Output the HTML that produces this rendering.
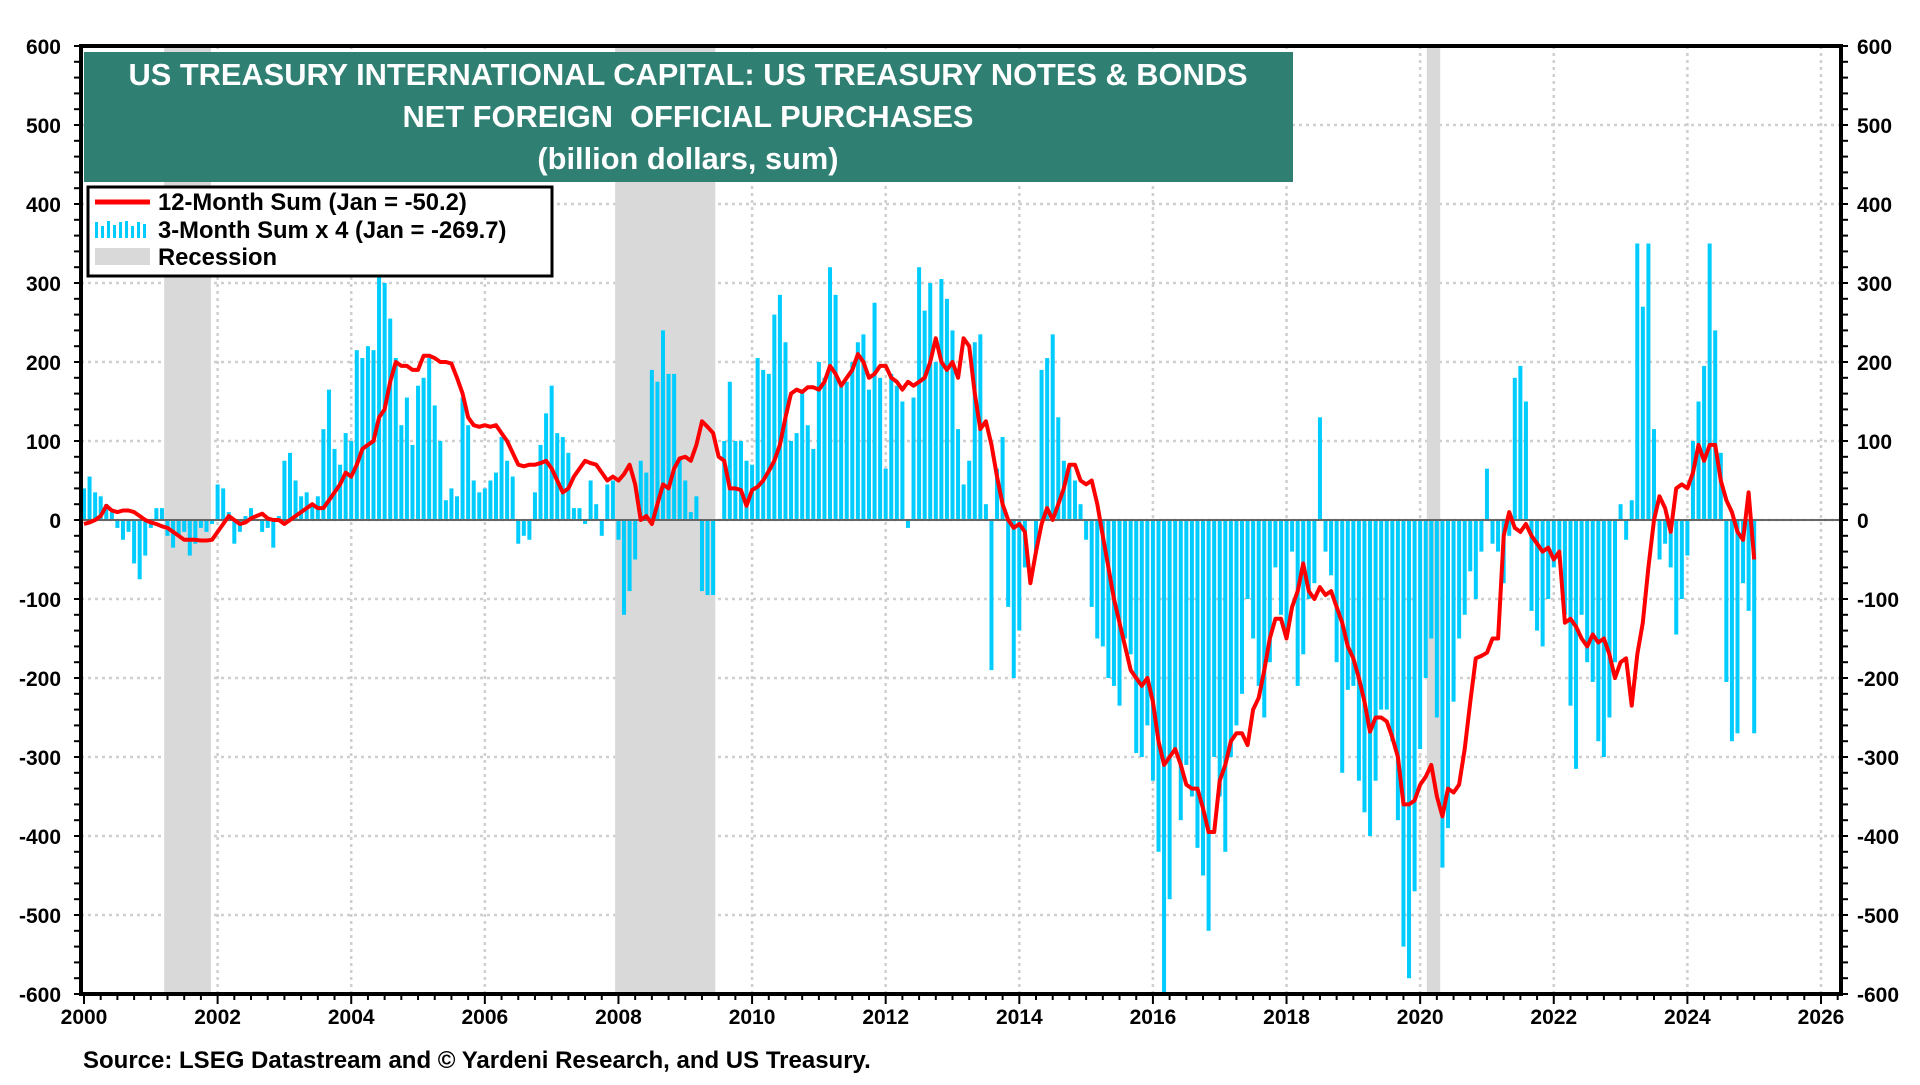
<!DOCTYPE html>
<html><head><meta charset="utf-8">
<style>
html,body{margin:0;padding:0;background:#fff;}
body{width:1920px;height:1080px;overflow:hidden;font-family:"Liberation Sans",Arial,sans-serif;}
svg text{font-family:"Liberation Sans",Arial,sans-serif;font-weight:bold;}
</style></head>
<body>
<svg id="chart" width="1920" height="1080" xmlns="http://www.w3.org/2000/svg">
<g id="grid"></g>
<g id="rec"></g>
<g id="bars"></g>
<line id="zero"></line>
<g id="line"></g>
<g id="axes"></g>
<g>
<rect x="84" y="52" width="1209" height="130" fill="#2f7f73"/>
<text x="688" y="85" fill="#fff" font-size="30.8" text-anchor="middle">US TREASURY INTERNATIONAL CAPITAL: US TREASURY NOTES &amp; BONDS</text>
<text x="688" y="127" fill="#fff" font-size="30.8" text-anchor="middle" xml:space="preserve">NET FOREIGN  OFFICIAL PURCHASES</text>
<text x="688" y="169" fill="#fff" font-size="30.8" text-anchor="middle">(billion dollars, sum)</text>
</g>
<g>
<rect x="88" y="187" width="464" height="89" fill="#fff" stroke="#000" stroke-width="3"/>
<line x1="95" y1="202" x2="150" y2="202" stroke="#f00" stroke-width="5"/>
<text x="158" y="210" font-size="23.8">12-Month Sum (Jan = -50.2)</text>
<g fill="#00ccff">
<rect x="95" y="222" width="3" height="16"/><rect x="101" y="226" width="3" height="12"/><rect x="107" y="221" width="3" height="17"/><rect x="113" y="225" width="3" height="13"/><rect x="119" y="222" width="3" height="16"/><rect x="125" y="221" width="3" height="17"/><rect x="131" y="226" width="3" height="12"/><rect x="137" y="222" width="3" height="16"/><rect x="143" y="224" width="3" height="14"/>
</g>
<text x="158" y="238" font-size="23.8">3-Month Sum x 4 (Jan = -269.7)</text>
<rect x="95" y="248" width="55" height="17" fill="#d9d9d9"/>
<text x="158" y="265" font-size="23.8">Recession</text>
</g>
<text x="83" y="1068" font-size="24">Source: LSEG Datastream and © Yardeni Research, and US Treasury.</text>
</svg>
<script>
const years = [2000,2002,2004,2006,2008,2010,2012,2014,2016,2018,2020,2022,2024,2026];
const yTicks = [600,500,400,300,200,100,0,-100,-200,-300,-400,-500,-600];
const recessions = [[2001.2,2001.9],[2007.95,2009.45],[2020.1,2020.3]];
const sum12 = [
-5,-3,0,5,18,12,10,12,12,10,5,0,
-3,-5,-8,-10,-15,-20,-25,-25,-25,-26,-26,-25,
-15,-5,5,0,-5,-3,2,5,8,2,0,0,
-5,0,5,10,15,20,15,15,25,35,45,60,
55,70,90,95,100,130,140,175,200,195,195,190,
190,208,208,205,200,200,198,180,160,130,120,118,
120,118,120,110,100,85,70,68,70,70,72,75,
65,50,35,40,55,65,75,72,70,60,50,55,
50,58,70,45,0,5,-5,20,45,40,65,78,
80,75,95,125,118,110,80,75,40,40,38,18,
38,42,50,62,75,95,130,160,165,162,168,168,
165,175,195,185,170,180,190,210,200,180,185,195,
195,180,175,165,175,170,175,180,200,230,200,190,
200,180,230,220,160,115,125,95,55,20,0,-10,
-5,-15,-80,-40,-5,15,0,20,40,70,70,50,
45,50,20,-20,-60,-100,-130,-160,-190,-200,-210,-200,
-230,-280,-310,-300,-290,-310,-335,-340,-340,-365,-395,-395,
-330,-310,-280,-270,-270,-285,-240,-225,-190,-150,-125,-125,
-150,-110,-90,-55,-90,-100,-85,-95,-90,-110,-130,-160,
-175,-200,-230,-268,-250,-250,-255,-275,-300,-360,-360,-355,
-335,-325,-310,-350,-375,-340,-345,-335,-290,-230,-175,-172,
-168,-150,-150,-20,10,-10,-15,-5,-20,-30,-40,-35,
-50,-40,-130,-125,-135,-150,-160,-145,-155,-150,-170,-200,
-180,-175,-235,-170,-130,-60,0,30,15,-15,40,45,
40,60,95,75,95,95,50,25,10,-15,-25,35,
-50];
const sum3x4 = [
40,55,35,30,20,10,-10,-25,-15,-55,-75,-45,
-10,15,15,-20,-35,-20,-15,-45,-30,-10,-15,-5,
45,40,10,-30,-15,5,15,0,-15,-10,-35,5,
75,85,50,30,35,20,30,115,165,90,70,110,
100,215,205,220,215,310,300,255,205,120,155,95,
170,180,205,145,100,25,40,30,155,120,50,35,
40,50,60,105,75,55,-30,-20,-25,35,95,135,
170,110,105,85,15,15,-5,50,20,-20,45,50,
-25,-120,-90,-50,75,60,190,175,240,185,185,80,
50,10,30,-90,-95,-95,0,100,175,100,100,75,
70,205,190,185,260,285,225,100,110,165,120,90,
200,180,320,285,175,175,200,225,235,165,275,180,
65,185,170,150,-10,155,320,265,300,200,305,280,
240,115,45,75,225,235,20,-190,65,105,-110,-200,
-140,-60,0,-40,190,205,235,130,75,70,50,20,
-25,-110,-150,-160,-200,-210,-235,-150,-170,-295,-300,-260,
-330,-420,-600,-480,-290,-380,-310,-350,-415,-450,-520,-300,
-350,-420,-300,-260,-220,-100,-150,-210,-250,-180,-60,-120,
-150,-40,-210,-170,-100,-80,130,-40,-70,-180,-320,-215,
-210,-330,-370,-400,-330,-240,-240,-280,-380,-540,-580,-470,
-290,-200,-150,-250,-440,-390,-230,-150,-120,-65,-100,-40,
65,-30,-40,-80,-20,180,195,150,-115,-140,-160,-100,
-60,-50,-120,-235,-315,-120,-180,-205,-280,-300,-250,-180,
20,-25,25,350,270,350,115,-50,-30,-60,-145,-100,
-45,100,150,195,350,240,85,-205,-280,-270,-80,-115,
-270];

const NS='http://www.w3.org/2000/svg';
const L=81,R=1841,T=46,B=994;
const X=y=>84+(y-2000)*(1821-84)/26;
const Y=v=>T+(600-v)*(B-T)/1200;
const mk=(tag,attrs,parent)=>{const e=document.createElementNS(NS,tag);for(const k in attrs)e.setAttribute(k,attrs[k]);parent.appendChild(e);return e;};
const grid=document.getElementById('grid'),axes=document.getElementById('axes');

yTicks.forEach(v=>{
  const g=mk('line',{x1:L,x2:R,y1:Y(v),y2:Y(v),stroke:'#cfcfcf','stroke-width':2.5,'stroke-dasharray':'3 4'},grid);
  
  
  const t1=mk('text',{x:61,y:Y(v)+8,'font-size':21,'text-anchor':'end'},axes);
  t1.textContent=v;
  
  
  const t2=mk('text',{x:1857,y:Y(v)+8,'font-size':21},axes);
  t2.textContent=v;
  
  
});
for(let v=-600;v<=600;v+=20){
  mk('line',{x1:L-7,x2:L,y1:Y(v),y2:Y(v),stroke:'#000','stroke-width':2},axes);
  mk('line',{x1:R,x2:R+7,y1:Y(v),y2:Y(v),stroke:'#000','stroke-width':2},axes);
}
years.forEach(yr=>{
  if(yr>2000){const g=mk('line',{x1:X(yr),x2:X(yr),y1:T,y2:B,stroke:'#cfcfcf','stroke-width':2.5,'stroke-dasharray':'3 4'},grid);
  
  }
  const t=mk('text',{x:X(yr),y:B+30,'font-size':21,'text-anchor':'middle'},axes);
  t.textContent=yr;
  
  
});
for(let q=2000;q<=2026.3;q+=0.25){
  mk('line',{x1:X(q),x2:X(q),y1:B,y2:B+(Math.abs(q-Math.round(q))<0.01&&Math.round(q)%2===0?10:6),stroke:'#000','stroke-width':2},axes);
}
const rec=document.getElementById('rec');
recessions.forEach(r=>{
  const e=mk('rect',{x:X(r[0]),y:T,width:X(r[1])-X(r[0]),height:B-T,fill:'#d9d9d9'},rec);
  
  
});
const bars=document.getElementById('bars');
sum3x4.forEach((v,i)=>{
  const x=X(2000+i/12);
  const y0=Y(0),y1=Y(v);
  const e=mk('rect',{x:x-2,y:Math.min(y0,y1),width:4,height:Math.abs(y1-y0),fill:'#00ccff'},bars);
  
  
});
const z=document.getElementById('zero');
z.setAttribute('x1',L);z.setAttribute('x2',R);z.setAttribute('y1',Y(0));z.setAttribute('y2',Y(0));
z.setAttribute('stroke','#666');z.setAttribute('stroke-width','2');
const pts=sum12.map((v,i)=>X(2000+i/12).toFixed(1)+','+Y(v).toFixed(1)).join(' ');
const pl=mk('polyline',{points:pts,fill:'none',stroke:'#ff0000','stroke-width':4,'stroke-linejoin':'round'},document.getElementById('line'));


const frame=mk('rect',{x:L,y:T,width:R-L,height:B-T,fill:'none',stroke:'#000','stroke-width':4},axes);


</script>
</body></html>
